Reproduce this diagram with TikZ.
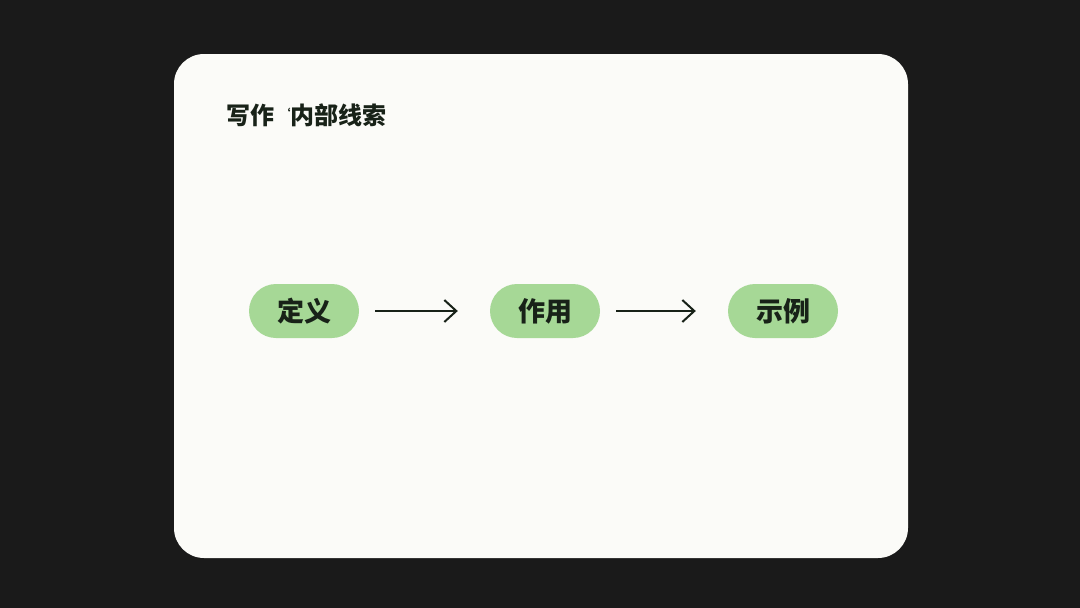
\documentclass[tikz,border=0pt]{standalone}
\usepackage{fontspec}
\setmainfont{Noto Sans CJK SC}
\usetikzlibrary{arrows.meta}
\definecolor{bgdark}{HTML}{1A1A1A}
\definecolor{cardbg}{HTML}{FBFBF8}
\definecolor{pillgreen}{HTML}{A6D896}
\definecolor{inkdark}{HTML}{182218}
\tikzset{
  pill/.style={fill=pillgreen, rounded corners=27pt, minimum width=110pt, minimum height=54pt, inner sep=0pt, text=inkdark, font=\fontsize{27pt}{27pt}\selectfont\bfseries},
  flow/.style={draw=inkdark, line width=2pt, -{Straight Barb[length=12pt,width=22pt,line width=2pt]}, shorten <=16pt, shorten >=32pt}
}
\begin{document}
\begin{tikzpicture}[x=1pt,y=-1pt]
\useasboundingbox (0,0) rectangle (1080,608);
\fill[bgdark] (0,0) rectangle (1080,608);
\fill[cardbg, rounded corners=30pt] (174,54) rectangle (908,558);
\node[anchor=west, text=inkdark, font=\fontsize{24pt}{24pt}\selectfont\bfseries] (title) at (223,115) {写作\,{\fontsize{12pt}{12pt}\selectfont\raisebox{6pt}{‘}}内部线索};
\node[pill] (a) at (304,311) {定义};
\node[pill] (b) at (545,311) {作用};
\node[pill] (c) at (783,311) {示例};
\draw[flow] (a.east) -- (b.west);
\draw[flow] (b.east) -- (c.west);
\end{tikzpicture}
\end{document}
